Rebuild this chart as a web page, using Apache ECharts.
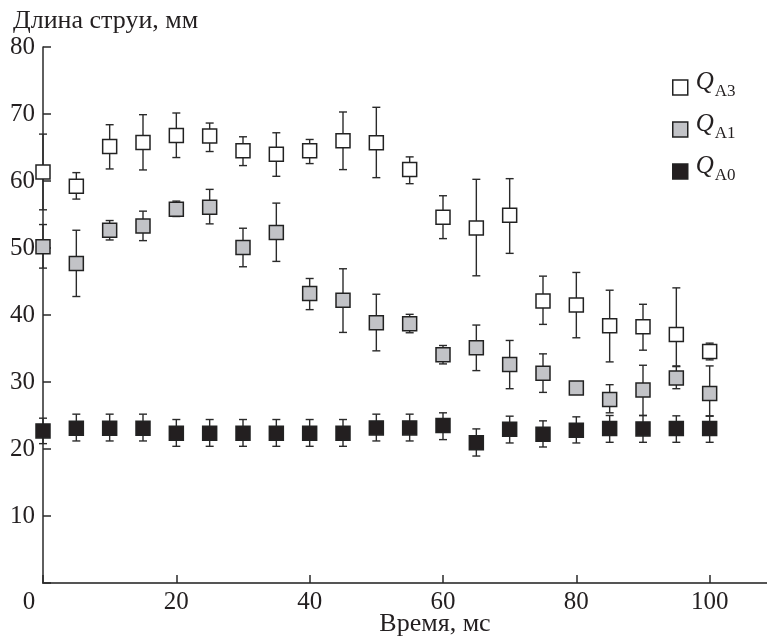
<!DOCTYPE html>
<html>
<head>
<meta charset="utf-8">
<script src="https://cdn.jsdelivr.net/npm/echarts@6/dist/echarts.min.js"></script>
<style>
html,body{margin:0;padding:0;background:#fff;}
#chart{width:767px;height:639px;}
</style>
</head>
<body>
<div id="chart"></div>
<script>
// Time, ms
var time = [0,5,10,15,20,25,30,35,40,45,50,55,60,65,70,75,80,85,90,95,100];
// Q_A3 (white squares)
var qa3   = [61.35,59.2,65.15,65.75,66.8,66.7,64.5,64.0,64.5,66.0,65.7,61.7,54.6,53.0,54.9,42.1,41.5,38.4,38.25,37.1,34.55];
var qa3Hi = [67.0,61.25,68.4,69.9,70.15,68.65,66.6,67.2,66.2,70.3,71.0,63.6,57.8,60.25,60.35,45.8,46.35,43.7,41.6,44.05,35.8];
var qa3Lo = [55.7,57.3,61.8,61.65,63.5,64.4,62.3,60.7,62.6,61.7,60.5,59.6,51.4,45.85,49.2,38.6,36.6,33.0,34.75,32.4,33.3];
// Q_A1 (grey squares)
var qa1   = [50.2,47.7,52.65,53.27,55.8,56.1,50.07,52.3,43.2,42.2,38.85,38.7,34.07,35.1,32.6,31.3,29.1,27.4,28.8,30.6,28.3];
var qa1Hi = [53.5,52.65,54.1,55.5,57.0,58.75,52.95,56.7,45.45,46.9,43.1,40.1,35.45,38.5,36.2,34.2,null,29.6,32.5,32.3,32.4];
var qa1Lo = [47.0,42.76,51.2,51.1,54.7,53.6,47.2,48.0,40.8,37.4,34.65,37.35,32.7,31.7,29.0,28.45,null,25.4,25.0,29.0,24.9];
// Q_A0 (black squares)
var qa0   = [22.7,23.1,23.1,23.1,22.35,22.35,22.35,22.35,22.35,22.35,23.15,23.15,23.5,20.95,22.95,22.2,22.8,23.05,23.0,23.05,23.05];
var qa0Hi = [24.6,25.2,25.2,25.2,24.4,24.4,24.4,24.4,24.4,24.4,25.2,25.2,25.4,23.0,24.9,24.2,24.8,25.0,25.0,24.95,24.95];
var qa0Lo = [20.8,21.2,21.2,21.2,20.4,20.4,20.4,20.4,20.4,20.4,21.2,21.2,21.4,18.95,20.9,20.3,20.9,21.0,21.0,21.0,21.0];
// ticks
var xTicks = [0,20,40,60,80,100];
var yTicks = [10,20,30,40,50,60,70,80];
var seriesNames = ['QA3','QA1','QA0'];
var legendSub = {QA3:'A3', QA1:'A1', QA0:'A0'};

var FONT = '"Liberation Serif","Times New Roman",serif';
var INK = '#231f20';

function pts(v){ return time.map(function(t,i){ return [t, v[i]]; }); }
function errs(lo,hi){
  var out=[];
  time.forEach(function(t,i){ if(lo[i]!=null && hi[i]!=null) out.push([t, lo[i], hi[i]]); });
  return out;
}
function renderErr(params, api){
  var x = api.value(0), lo = api.value(1), hi = api.value(2);
  var a = api.coord([x, hi]), b = api.coord([x, lo]);
  var w = 4;
  var st = {stroke:'#2a2a2a', lineWidth:1.4};
  return {type:'group', children:[
    {type:'line', shape:{x1:a[0],y1:a[1],x2:b[0],y2:b[1]}, style:st},
    {type:'line', shape:{x1:a[0]-w,y1:a[1],x2:a[0]+w,y2:a[1]}, style:st},
    {type:'line', shape:{x1:b[0]-w,y1:b[1],x2:b[0]+w,y2:b[1]}, style:st}
  ]};
}
function errSeries(lo,hi){
  return {type:'custom', renderItem:renderErr, data:errs(lo,hi), encode:{x:0,y:[1,2]}, z:1, silent:true, legendHoverLink:false};
}
function sq(name, data, fill){
  return {name:name, type:'scatter', data:pts(data), symbol:'rect', symbolSize:14, z:5,
    itemStyle:{color:fill, borderColor:'#222', borderWidth:1.5, opacity:1}};
}

var chart = echarts.init(document.getElementById('chart'), null, {renderer:'canvas'});
chart.setOption({
  animation:false,
  backgroundColor:'#fff',
  title:{text:'Длина струи, мм', left:8, top:3, padding:[5,5,5,5],
    textStyle:{fontFamily:FONT, fontSize:26, fontWeight:'normal', color:INK}},
  grid:{left:43, top:47, right:0, bottom:56, containLabel:false, outerBoundsMode:'none'},
  legend:{orient:'vertical', left:667, top:65, itemWidth:15, itemHeight:15, itemGap:7,
    icon:'rect', data:seriesNames,
    itemStyle:{borderColor:'#222', borderWidth:1.5},
    formatter:function(n){ return '{q|Q}{s|' + legendSub[n] + '}'; },
    textStyle:{fontFamily:FONT, color:INK, rich:{
      q:{fontFamily:FONT, fontSize:25, fontStyle:'italic', color:INK, lineHeight:20, padding:[0,0,10,3]},
      s:{fontFamily:FONT, fontSize:17, color:INK, lineHeight:12, padding:[13,0,5,1]}
    }}
  },
  xAxis:[{
    type:'value', min:0, max:108.6, interval:20,
    axisLine:{show:true, onZero:false, lineStyle:{color:'#2a2a2a', width:1.5}},
    axisTick:{show:true, inside:true, length:8, lineStyle:{color:'#2a2a2a', width:1.5}},
    splitLine:{show:false},
    axisLabel:{showMaxLabel:false, margin:7, fontFamily:FONT, fontSize:25, color:INK,
      formatter:function(v){ if(xTicks.indexOf(v)<0) return ''; return v===0 ? '{z|0}' : String(v); },
      rich:{z:{fontFamily:FONT, fontSize:25, color:INK, padding:[0,28,0,0]}}},
    name:'Время, мс', nameLocation:'middle', nameGap:28, nameMoveOverlap:false,
    nameTextStyle:{fontFamily:FONT, fontSize:26, color:INK, padding:[0,0,0,60]}
  },{
    type:'value', position:'top', min:0, max:108.6,
    axisLine:{show:true, lineStyle:{color:'#555', width:2}},
    axisTick:{show:false}, axisLabel:{show:false}, splitLine:{show:false}
  }],
  yAxis:{
    type:'value', min:0, max:80, interval:10,
    axisLine:{show:true, onZero:false, lineStyle:{color:'#2a2a2a', width:1.5}},
    axisTick:{show:true, inside:true, length:8, lineStyle:{color:'#2a2a2a', width:1.5}},
    splitLine:{show:false},
    axisLabel:{margin:8, fontFamily:FONT, fontSize:25, color:INK,
      formatter:function(v){ return yTicks.indexOf(v)<0 ? '' : String(v); }}
  },
  series:[
    errSeries(qa3Lo, qa3Hi),
    errSeries(qa1Lo, qa1Hi),
    errSeries(qa0Lo, qa0Hi),
    sq('QA3', qa3, '#ffffff'),
    sq('QA1', qa1, '#c2c3c7'),
    sq('QA0', qa0, '#231f20')
  ]
});
</script>
</body>
</html>
